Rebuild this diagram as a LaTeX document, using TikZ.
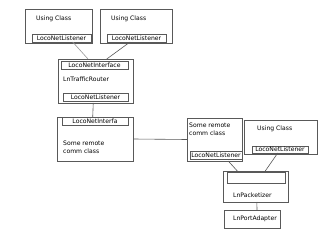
\documentclass[tikz,border=0pt]{standalone}
\usepackage{fontspec}
\setmainfont{DejaVu Sans}
\usetikzlibrary{calc}
\begin{document}
\begin{tikzpicture}[x=1pt,y=-1pt,
  box/.style={draw=black!65, line width=0.6pt, inner sep=0pt, outer sep=0pt, anchor=north west},
  lbl/.style={box, font=\fontsize{6.1}{6.5}\selectfont},
  txt/.style={inner sep=0pt, anchor=west, font=\fontsize{6.1}{7.6}\selectfont, align=left},
  conn/.style={draw=black!65, line width=0.6pt},
  connlight/.style={draw=black!40, line width=0.6pt}]
\useasboundingbox[fill=white] (0,0) rectangle (320,240);

% Client classes at the top
\node[box, minimum width=67pt, minimum height=34pt] (A) at (25,9) {};
\node[txt] (At) at (36,19) {Using Class};
\node[lbl, minimum width=59pt, minimum height=8pt] (Al) at (32,34) {LocoNetListener};

\node[box, minimum width=72pt, minimum height=34pt] (B) at (100,9) {};
\node[txt] (Bt) at (111,19) {Using Class};
\node[lbl, minimum width=59pt, minimum height=8pt] (Bl) at (107,34) {LocoNetListener};

% Traffic router
\node[box, minimum width=75pt, minimum height=44pt] (C) at (58,59) {};
\node[lbl, minimum width=67pt, minimum height=8pt] (Ci) at (61,61) {LocoNetInterface};
\node[txt] (Ct) at (63,79) {LnTrafficRouter};
\node[lbl, minimum width=65pt, minimum height=8pt] (Cl) at (63,93) {LocoNetListener};

% Local end of the remote link
\node[box, minimum width=76pt, minimum height=44pt] (D) at (57,117) {};
\node[lbl, minimum width=66pt, minimum height=8pt] (Di) at (62,117) {LocoNetInterfa};
\node[txt] (Dt) at (63,147.5) {Some remote\\comm class};

% Remote end of the link
\node[box, minimum width=55pt, minimum height=43pt] (E) at (187,118) {};
\node[txt] (Et) at (189,129) {Some remote\\comm class};
\node[lbl, minimum width=52pt, minimum height=8pt] (El) at (190,151) {LocoNetListener};

\node[box, minimum width=73pt, minimum height=34pt] (F) at (244,120) {};
\node[txt] (Ft) at (257,129) {Using Class};
\node[lbl, minimum width=56pt, minimum height=7pt] (Fl) at (252,146) {LocoNetListener};

% Packetizer and port adapter
\node[box, minimum width=65pt, minimum height=31pt] (G) at (223,171) {};
\node[box, minimum width=58pt, minimum height=11pt] (Gi) at (227,172) {};
\node[txt] (Gt) at (233,195) {LnPacketizer};

\node[box, minimum width=56pt, minimum height=18pt] (H) at (224,210) {};
\node[txt] (Ht) at (233,219) {LnPortAdapter};

% Connectors
\draw[connlight] ($(Al.south west)!0.69!(Al.south east)$) -- ($(C.north west)!0.4!(C.north east)$);
\draw[conn] ($(Bl.south west)!0.39!(Bl.south east)$) -- ($(C.north west)!0.65!(C.north east)$);
\draw[conn] ($(C.south west)!0.47!(C.south east)$) -- ($(D.north west)!0.47!(D.north east)$);
\draw[conn] (D.east) -- (E.west);
\draw[conn] ($(E.south west)!0.75!(E.south east)$) -- ($(G.north west)!0.22!(G.north east)$);
\draw[conn] ($(Fl.south west)!0.46!(Fl.south east)$) -- ($(G.north west)!0.65!(G.north east)$);
\draw[conn] ($(G.south west)!0.52!(G.south east)$) -- ($(H.north west)!0.59!(H.north east)$);
\end{tikzpicture}
\end{document}
